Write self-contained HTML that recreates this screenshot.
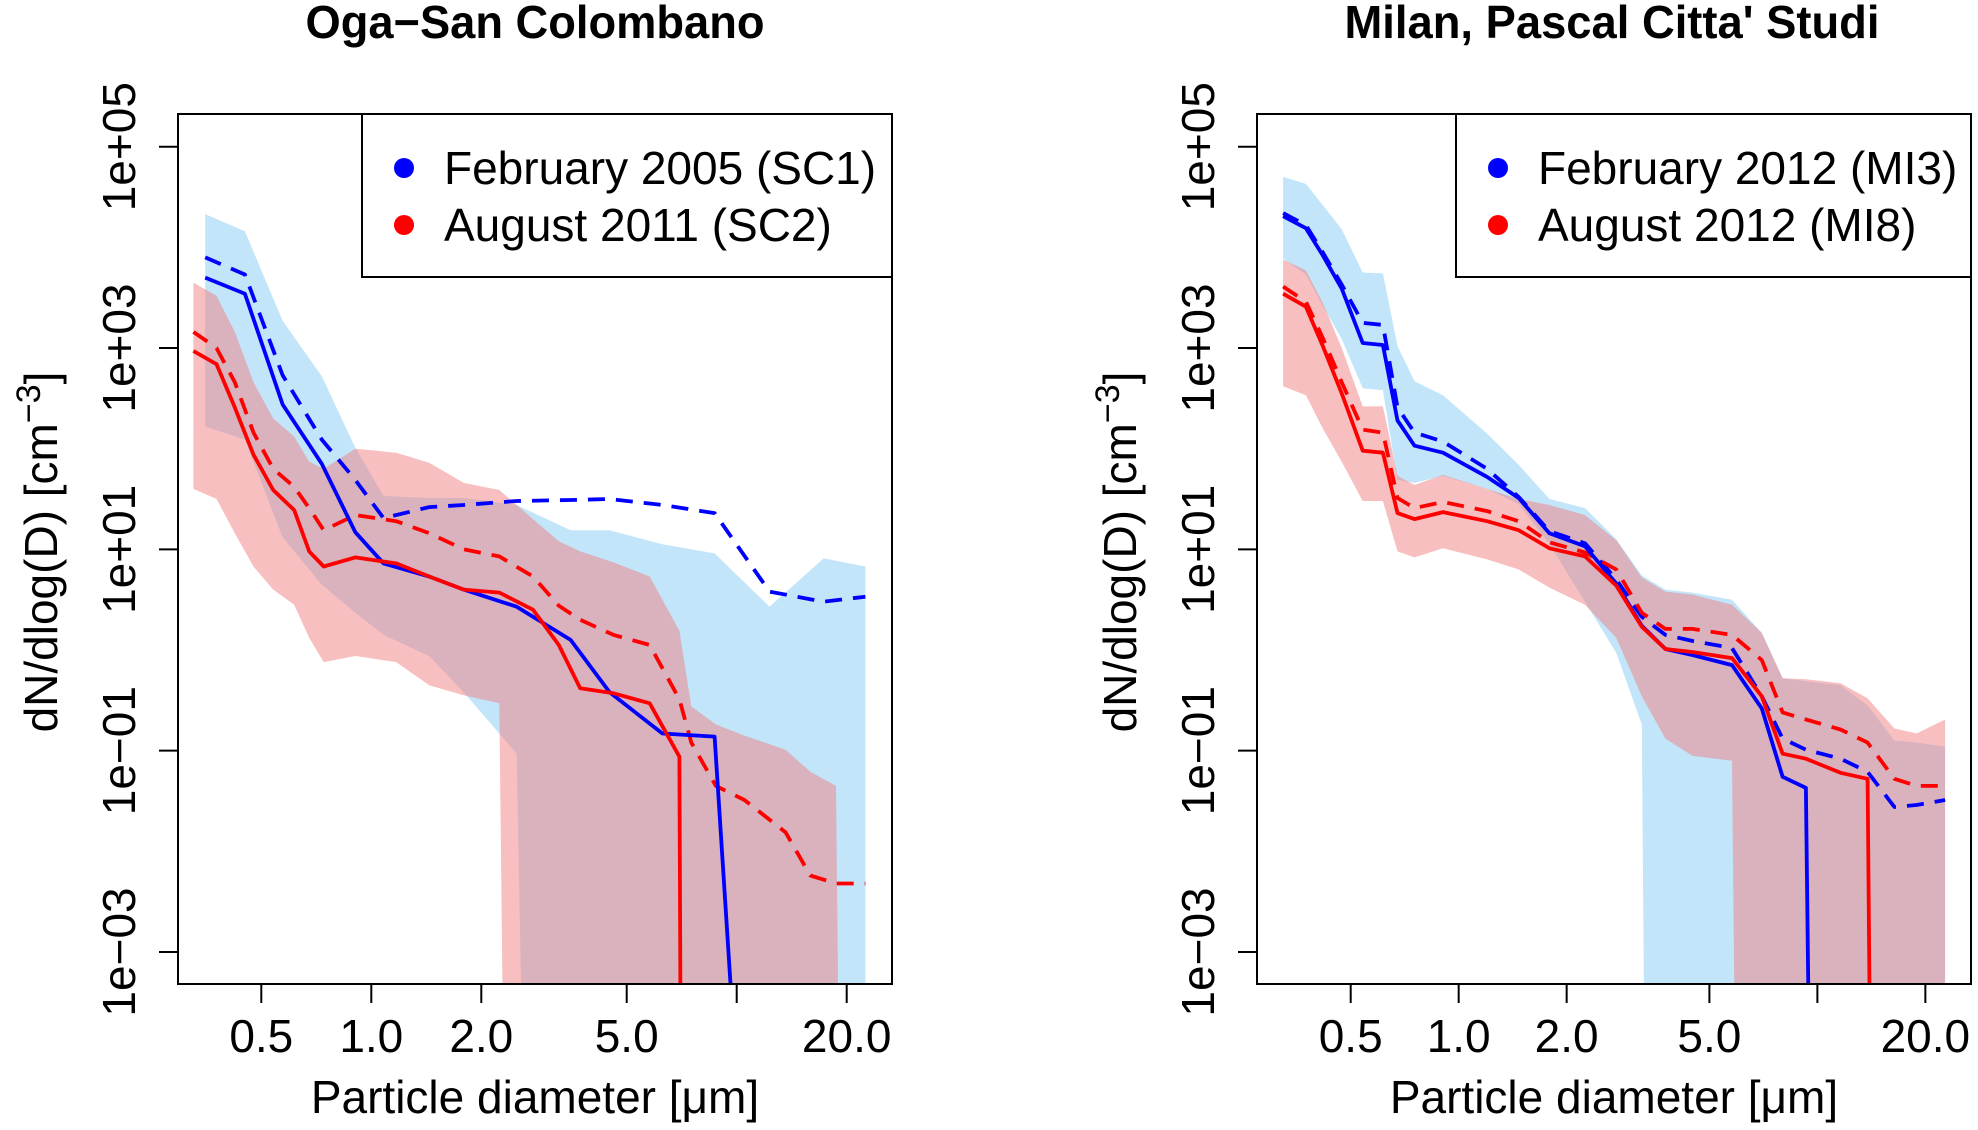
<!DOCTYPE html>
<html><head><meta charset="utf-8"><style>
html,body{margin:0;padding:0;background:#fff;overflow:hidden;width:1978px;height:1130px}
svg{display:block;font-family:"Liberation Sans",sans-serif}
</style></head><body>
<svg id="chart" width="1978" height="1130" viewBox="0 0 1978 1130" xmlns="http://www.w3.org/2000/svg">
<defs>
<clipPath id="clipL"><rect x="178" y="114" width="714" height="870"/></clipPath>
<clipPath id="clipR"><rect x="1257" y="114" width="714" height="870"/></clipPath>
</defs>
</svg>
<script>
// ---- data (log10 values of dN/dlog(D)) ----
const xTickLabels = ["0.5","1.0","2.0","5.0","20.0"];
const xTickValues = [0.5,1,2,5,10,20];
const yTickLabels = ["1e+05","1e+03","1e+01","1e\u221201","1e\u221203"];
const yTickValues = [5,3,1,-1,-3];

// Left panel: Oga-San Colombano
const leftBlueD = [0.351,0.451,0.572,0.732,0.904,1.08,1.44,1.79,2.50,3.51,4.49,6.26,8.70,12.3,17.3,22.5];
const leftBlueSolid = [3.70,3.54,2.44,1.85,1.17,0.86,0.73,0.60,0.43,0.10,-0.42,-0.83,-0.86,-9.35,null,null];
const leftBlueDashed = [3.90,3.73,2.73,2.09,1.69,1.31,1.42,1.44,1.48,1.49,1.50,1.44,1.36,0.58,0.48,0.53];
const leftBlueHi = [4.33,4.16,3.27,2.72,2.01,1.53,1.51,1.51,1.44,1.19,1.19,1.05,0.96,0.43,0.91,0.83];
const leftBlueLo = [2.22,2.09,1.12,0.65,0.37,0.15,-0.06,-0.42,-1.03,-30,-30,-30,-30,-30,-30,-30];

const leftRedD = [0.326,0.377,0.423,0.476,0.539,0.615,0.676,0.741,0.904,1.17,1.44,1.79,2.24,2.77,3.26,3.73,4.6,5.78,6.97,7.51,8.77,10.5,13.6,15.9,18.7,22.5];
const leftRedSolid = [2.97,2.84,2.41,1.94,1.59,1.39,0.98,0.83,0.92,0.86,0.73,0.60,0.57,0.40,0.05,-0.38,-0.43,-0.53,-1.06,-30,null,null,null,null,null,null];
const leftRedDashed = [3.16,3.00,2.66,2.16,1.80,1.62,1.41,1.19,1.34,1.28,1.16,1.00,0.93,0.73,0.44,0.30,0.15,0.05,-0.49,-0.92,-1.35,-1.49,-1.81,-2.24,-2.32,-2.32];
const leftRedHi = [3.65,3.52,3.16,2.66,2.30,2.12,1.87,1.80,2.00,1.96,1.86,1.66,1.59,1.30,1.08,0.98,0.87,0.73,0.19,-0.56,-0.74,-0.85,-0.99,-1.21,-1.35,-30];
const leftRedLo = [1.60,1.50,1.16,0.83,0.60,0.45,0.12,-0.12,-0.06,-0.12,-0.35,-0.45,-0.53,-30,-30,-30,-30,-30,-30,-30,-30,-30,-30,-30,-30,-30];

// Right panel: Milan, Pascal Citta' Studi
const rightD = [0.324,0.375,0.418,0.472,0.540,0.615,0.675,0.753,0.904,1.20,1.47,1.79,2.25,2.75,3.24,3.77,4.48,5.78,7.00,8.00,9.29,11.6,13.8,16.4,18.9,22.7];
const rightBlueSolid = [4.31,4.19,3.92,3.59,3.05,3.03,2.28,2.03,1.96,1.72,1.51,1.16,1.03,0.66,0.24,0.01,-0.05,-0.15,-0.58,-1.26,-1.37,-30,null,null,null,null];
const rightBlueDashed = [4.34,4.22,3.95,3.63,3.25,3.23,2.41,2.16,2.07,1.80,1.52,1.18,1.06,0.70,0.33,0.15,0.09,0.02,-0.46,-0.88,-0.99,-1.08,-1.21,-1.56,-1.54,-1.49];
const rightRedSolid = [3.54,3.41,3.02,2.55,1.98,1.96,1.36,1.30,1.37,1.28,1.19,1.01,0.93,0.64,0.23,0.01,-0.02,-0.08,-0.46,-1.03,-1.08,-1.22,-1.28,-30,null,null];
const rightRedDashed = [3.61,3.46,3.10,2.66,2.19,2.16,1.51,1.41,1.47,1.38,1.28,1.07,0.97,0.80,0.37,0.21,0.21,0.15,-0.10,-0.62,-0.69,-0.79,-0.92,-1.28,-1.35,-1.35];
const rightBlueHi = [4.70,4.63,4.42,4.18,3.75,3.74,3.02,2.67,2.53,2.15,1.84,1.50,1.41,1.10,0.74,0.60,0.57,0.50,0.17,-0.28,-0.31,-0.35,-0.55,-0.90,-0.92,-0.96];
const rightBlueLo = [3.89,3.73,3.42,3.09,2.60,2.58,1.69,1.66,1.73,1.60,1.45,1.05,0.48,-0.03,-0.74,-30,-30,-30,-30,-30,-30,-30,-30,-30,-30,-30];
const rightRedHi = [3.88,3.77,3.45,3.00,2.42,2.42,1.73,1.64,1.74,1.60,1.50,1.44,1.34,1.09,0.72,0.58,0.55,0.45,0.17,-0.28,-0.29,-0.33,-0.48,-0.78,-0.83,-0.69];
const rightRedLo = [2.62,2.53,2.20,1.87,1.48,1.48,0.98,0.92,1.01,0.90,0.80,0.62,0.45,0.12,-0.46,-0.88,-1.05,-1.10,-30,-30,-30,-30,-30,-30,-30,-30];

const NS = "http://www.w3.org/2000/svg";
const svg = document.getElementById("chart");
function mk(tag, attrs, parent){ const e=document.createElementNS(NS,tag); for(const k in attrs) e.setAttribute(k,attrs[k]); (parent||svg).appendChild(e); return e; }
const FS = 46;
const YMAX = 990; // clip floor (just below plot bottom)

// clip a polygon against y <= YMAX
function clipPoly(pts){
  const out=[];
  for(let i=0;i<pts.length;i++){
    const a=pts[i], b=pts[(i+1)%pts.length];
    const ain=a[1]<=YMAX, bin=b[1]<=YMAX;
    if(ain) out.push(a);
    if(ain!==bin){ const t=(YMAX-a[1])/(b[1]-a[1]); out.push([a[0]+t*(b[0]-a[0]),YMAX]); }
  }
  return out;
}
// clip a polyline segment list against y <= YMAX
function clipLine(pts){
  let d="",pen=false;
  for(let i=0;i<pts.length;i++){
    const p=pts[i];
    if(p===null){pen=false;continue;}
    const prev=i>0?pts[i-1]:null;
    if(p[1]<=YMAX){
      if(!pen && prev && prev[1]>YMAX){ const t=(YMAX-prev[1])/(p[1]-prev[1]); d+="M"+(prev[0]+t*(p[0]-prev[0])).toFixed(1)+" "+YMAX; pen=true; }
      d+=(pen?"L":"M")+p[0].toFixed(1)+" "+p[1].toFixed(1); pen=true;
    } else {
      if(pen && prev){ const t=(YMAX-prev[1])/(p[1]-prev[1]); d+="L"+(prev[0]+t*(p[0]-prev[0])).toFixed(1)+" "+YMAX; }
      pen=false;
    }
  }
  return d;
}

function panel(cfg){
  const g = mk("g",{});
  
  
  const X = d => cfg.x05 + Math.log10(d/0.5)*cfg.dec;
  const Y = v => 146.7 + (5 - v)*100.66;
  const plot = mk("g",{"clip-path":"url(#"+cfg.clip+")"},g);
  
  
  function band(D,hi,lo,fill,nm){
    let pts=[]; for(let i=0;i<D.length;i++) pts.push([X(D[i]),Y(hi[i])]);
    for(let i=D.length-1;i>=0;i--) pts.push([X(D[i]),Y(lo[i])]);
    pts=clipPoly(pts);
    const p=mk("polygon",{points:pts.map(q=>q[0].toFixed(1)+","+q[1].toFixed(1)).join(" "),fill:fill},plot);
    
    
  }
  function line(D,v,col,dash,nm){
    const pts=D.map((d,i)=>v[i]===null?null:[X(d),Y(v[i])]);
    const a={d:clipLine(pts),fill:"none",stroke:col,"stroke-width":3.8,"stroke-linejoin":"round"};
    if(dash) a["stroke-dasharray"]="17 11";
    const p=mk("path",a,plot);
    
    
  }
  band(cfg.bD,cfg.bHi,cfg.bLo,"rgb(194,229,250)","blue-range-band");
  band(cfg.rD,cfg.rHi,cfg.rLo,"rgba(240,128,128,0.5)","red-range-band");
  line(cfg.bD,cfg.bDash,"#0000ff",true,"blue-dashed-line");
  line(cfg.rD,cfg.rDash,"#ff0000",true,"red-dashed-line");
  line(cfg.bD,cfg.bSol,"#0000ff",false,"blue-solid-line");
  line(cfg.rD,cfg.rSol,"#ff0000",false,"red-solid-line");
  const L=cfg.left, R=L+714;
  const box=mk("rect",{x:L,y:114,width:714,height:870,fill:"none",stroke:"#000","stroke-width":2},g);
  
  
  yTickValues.forEach((v,i)=>{
    const t=mk("line",{x1:L-19,x2:L,y1:Y(v),y2:Y(v),stroke:"#000","stroke-width":2},g);
    
    
    const tx=mk("text",{transform:"translate("+(L-43)+","+Y(v)+") rotate(-90)","text-anchor":"middle","font-size":FS},g);
    tx.textContent=yTickLabels[i];
    
    
  });
  xTickValues.forEach(v=>{
    const t=mk("line",{x1:X(v),x2:X(v),y1:984,y2:1003,stroke:"#000","stroke-width":2},g);
    
    
  });
  xTickLabels.forEach(s=>{
    const tx=mk("text",{x:X(parseFloat(s)),y:1052,"text-anchor":"middle","font-size":FS},g);
    tx.textContent=s;
    
    
  });
  const xt=mk("text",{x:(L+R)/2,y:1113,"text-anchor":"middle","font-size":FS},g);
  xt.textContent="Particle diameter [\u03bcm]";
  
  
  const yt=mk("text",{transform:"translate("+(L-121)+",552) rotate(-90)","text-anchor":"middle","font-size":FS},g);
  
  
  yt.innerHTML='dN/dlog(D) [cm<tspan dy="-17" font-size="34">\u22123</tspan><tspan dy="17">]</tspan>';
  const ti=mk("text",{x:cfg.titleX,y:38,"text-anchor":"middle","font-size":FS,"font-weight":"bold",textLength:cfg.titleW,lengthAdjust:"spacingAndGlyphs"},g);
  ti.textContent=cfg.title;
  
  
  const lg=mk("g",{},g);
  
  
  const lb=mk("rect",{x:cfg.legX,y:114,width:R-cfg.legX,height:163,fill:"#fff",stroke:"#000","stroke-width":2},lg);
  
  
  [[cfg.leg1,"#0000ff",168],[cfg.leg2,"#ff0000",225]].forEach(e=>{
    const c=mk("circle",{cx:cfg.legX+42,cy:e[2],r:10,fill:e[1]},lg);
    
    
    const t=mk("text",{x:cfg.legX+82,y:e[2]+16,"font-size":FS},lg);
    t.textContent=e[0];
    
    
  });
}

panel({name:"panel-oga-san-colombano",clip:"clipL",left:178,x05:261.3,dec:365.4,title:"Oga\u2212San Colombano",titleX:535,titleW:459,
  legX:362,leg1:"February 2005 (SC1)",leg2:"August 2011 (SC2)",
  bD:leftBlueD,bSol:leftBlueSolid,bDash:leftBlueDashed,bHi:leftBlueHi,bLo:leftBlueLo,
  rD:leftRedD,rSol:leftRedSolid,rDash:leftRedDashed,rHi:leftRedHi,rLo:leftRedLo});
panel({name:"panel-milan-pascal",clip:"clipR",left:1257,x05:1350.7,dec:358.7,title:"Milan, Pascal Citta' Studi",titleX:1612,titleW:535,
  legX:1456,leg1:"February 2012 (MI3)",leg2:"August 2012 (MI8)",
  bD:rightD,bSol:rightBlueSolid,bDash:rightBlueDashed,bHi:rightBlueHi,bLo:rightBlueLo,
  rD:rightD,rSol:rightRedSolid,rDash:rightRedDashed,rHi:rightRedHi,rLo:rightRedLo});
</script>
</body></html>
